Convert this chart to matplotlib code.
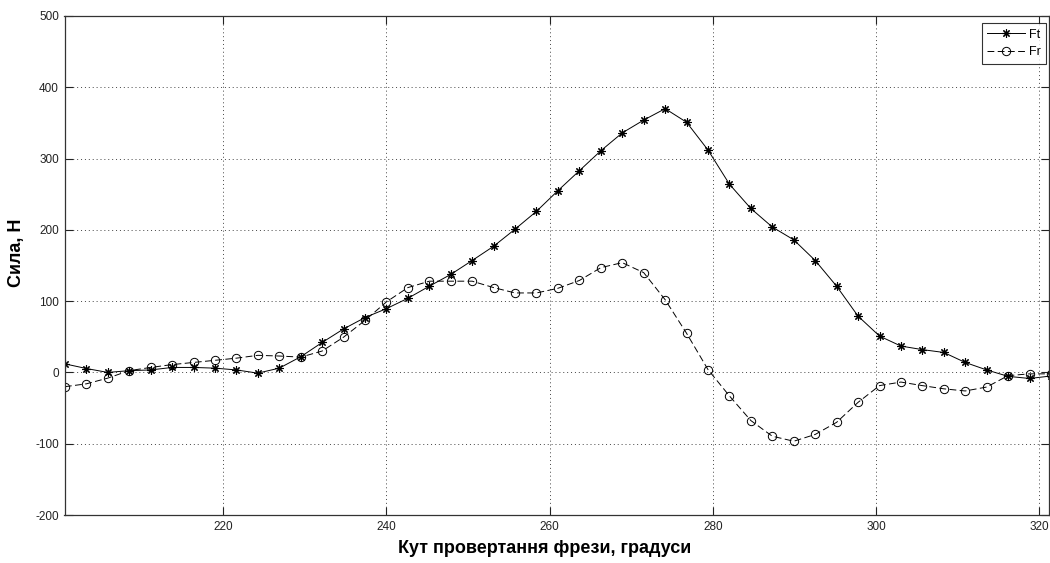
import matplotlib
matplotlib.use("Agg")
import matplotlib.pyplot as plt

plt.rcParams['font.family'] = ['Liberation Sans', 'DejaVu Sans']
plt.rcParams['axes.unicode_minus'] = False

angle = [200.60, 203.23, 205.85, 208.48, 211.11, 213.74, 216.36, 218.99, 221.62, 224.24,
         226.87, 229.50, 232.12, 234.75, 237.38, 240.01, 242.63, 245.26, 247.89, 250.51,
         253.14, 255.77, 258.39, 261.02, 263.65, 266.28, 268.90, 271.53, 274.16, 276.78,
         279.41, 282.04, 284.66, 287.29, 289.92, 292.55, 295.17, 297.80, 300.43, 303.05,
         305.68, 308.31, 310.93, 313.56, 316.19, 318.82, 321.44]
ft = [12, 5.5, 0, 2.5, 3.5, 7, 7, 6, 3.5, -1,
      6, 22, 42, 61, 77, 89.5, 104, 121, 137.5, 157,
      177, 201, 226, 255, 283, 311, 336, 354, 370, 351,
      312, 264, 230, 204, 186, 157, 121, 79, 51, 37,
      32, 28, 14, 3.5, -5.5, -8.5, -5]
fr = [-20, -16, -8, 2.5, 7, 11, 14, 17, 20, 24,
      23, 21.5, 30, 49.5, 73, 99, 119, 128, 128, 128,
      119, 111.5, 111.5, 118, 129, 147, 154, 140, 102, 55,
      4, -33, -67.5, -89.5, -96.5, -87, -70, -42, -18.5, -13.5,
      -18.5, -23, -26, -20.5, -4.5, -2, -2]
xticks = [220, 240, 260, 280, 300, 320]
yticks = [-200, -100, 0, 100, 200, 300, 400, 500]

fig = plt.figure(figsize=(10.5, 5.63), dpi=100)
ax = fig.add_axes([64.5/1050, 48/563, (1049-64.5)/1050, 499/563])

ax.plot(angle, ft, color='black', lw=0.7, ls='-', marker=(8, 2, 0), ms=6,
        mew=0.8, label='Ft')
ax.plot(angle, fr, color='black', lw=0.7, ls=(0, (7, 3.5)), marker='o', ms=6,
        mfc='none', mew=0.7, label='Fr')

ax.set_xlim(200.55, 321.2)
ax.set_ylim(-200, 500)
ax.set_xticks(xticks)
ax.set_yticks(yticks)
ax.tick_params(direction='in', length=6, width=0.8, top=True, right=True,
               labelsize=8.5, colors='#222222', pad=4)
ax.grid(True, ls=(0, (1, 3)), color='#444444', lw=0.7)
for s in ax.spines.values():
    s.set_color('#333333')
    s.set_linewidth(0.9)

ax.set_xlabel('Кут провертання фрези, градуси', fontsize=13, fontweight='bold')
ax.xaxis.set_label_coords(0.488, -0.0675)
ax.xaxis.label.set_va('center')
ax.set_ylabel('Сила, Н', fontsize=13, fontweight='bold')
ax.yaxis.set_label_coords(-0.0485, 0.525)
ax.yaxis.label.set_va('center')

leg = ax.legend(loc='upper right', bbox_to_anchor=(0.997, 0.986), fontsize=9,
                frameon=True, fancybox=False, edgecolor='black', borderpad=0.45,
                handlelength=3.0, handletextpad=0.3, labelspacing=0.45,
                borderaxespad=0)
leg.get_frame().set_linewidth(0.8)

fig.savefig('out.png', dpi=100, facecolor='white')
